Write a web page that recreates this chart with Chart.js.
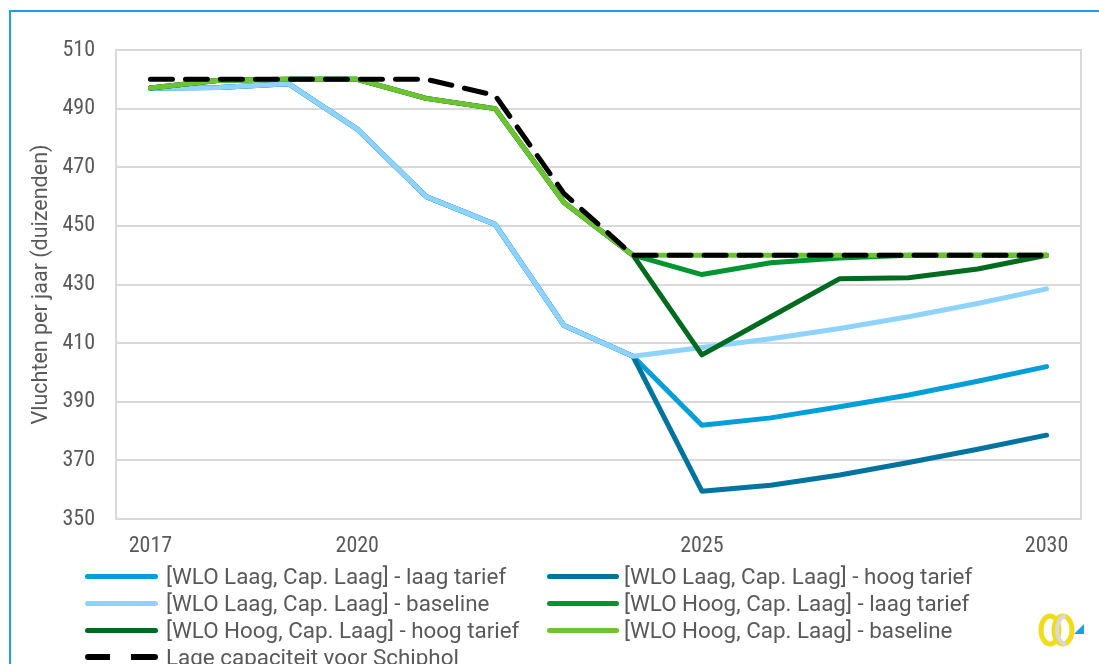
<!DOCTYPE html>
<html>
<head>
<meta charset="utf-8">
<script src="https://cdn.jsdelivr.net/npm/chart.js@4/dist/chart.umd.min.js"></script>
<style>
  html, body { margin: 0; padding: 0; background: #fff; }
  #wrap { position: relative; width: 1099px; height: 664px; overflow: hidden; font-family: Roboto, sans-serif; }
  #frame { position: absolute; left: 9px; top: 10px; width: 1200px; height: 800px; border-left: 2px solid #1BA1E2; border-top: 2px solid #1BA1E2; box-sizing: border-box; }
  #cv { position: absolute; left: 0; top: 0; }
  #legend { position: absolute; left: 0; top: 0; width: 1099px; height: 664px; pointer-events: none; }
  .item { position: absolute; height: 26px; display: flex; align-items: center; color: #595959; font-family: Roboto, sans-serif; font-size: 22.4px; white-space: nowrap; }
  .swatch { width: 73px; height: 0; margin-right: 8px; border-radius: 3px; flex: none; }
  #logo { position: absolute; left: 1036px; top: 612px; width: 50px; height: 36px; }
</style>
</head>
<body>
<div id="wrap">
  <div id="frame"></div>
  <canvas id="cv" width="1099" height="664"></canvas>
  <div id="legend"></div>
  <svg id="logo" viewBox="0 0 50 36">
    <ellipse cx="14" cy="18" rx="9" ry="14" fill="none" stroke="#F2DC1A" stroke-width="5"/>
    <ellipse cx="27" cy="18" rx="9" ry="14" fill="none" stroke="#F2DC1A" stroke-width="5"/>
    <path d="M30 4 A9 14 0 0 0 30 32" fill="none" stroke="#D9D9D9" stroke-width="4"/>
    <polygon points="38,22 48,22 48,12" fill="#1BA1E2"/>
  </svg>
</div>
<script>
const years = ["2017","2018","2019","2020","2021","2022","2023","2024","2025","2026","2027","2028","2029","2030"];
const shownYearLabels = ["2017","2020","2025","2030"];
const yTicks = [350, 370, 390, 410, 430, 450, 470, 490, 510];

const seriesNames = [
  "[WLO Laag, Cap. Laag] - laag tarief",
  "[WLO Laag, Cap. Laag] - hoog tarief",
  "[WLO Laag, Cap. Laag] - baseline",
  "[WLO Hoog, Cap. Laag] - laag tarief",
  "[WLO Hoog, Cap. Laag] - hoog tarief",
  "[WLO Hoog, Cap. Laag] - baseline",
  "Lage capaciteit voor Schiphol"
];

const wloLaagLaagTarief = [497, 497.2, 498.5, 483, 460, 450.5, 416, 405.5, 382, 384.5, 388.3, 392.3, 397, 402];
const wloLaagHoogTarief = [497, 497.2, 498.5, 483, 460, 450.5, 416, 405.5, 359.5, 361.5, 365, 369.3, 373.8, 378.6];
const wloLaagBaseline   = [497, 497.2, 498.5, 483, 460, 450.5, 416, 405.5, 408.5, 411.5, 415, 419, 423.5, 428.5];
const wloHoogLaagTarief = [497, 499.7, 500, 500, 493.5, 490, 458, 440, 433.4, 437.4, 439, 440, 440, 440];
const wloHoogHoogTarief = [497, 499.7, 500, 500, 493.5, 490, 458, 440, 406, 419, 432, 432.3, 435.3, 440];
const wloHoogBaseline   = [497, 499.7, 500, 500, 493.5, 490, 458, 440, 440, 440, 440, 440, 440, 440];
const lageCapaciteit    = [500, 500, 500, 500, 500, 494.5, 461, 440, 440, 440, 440, 440, 440, 440];

const seriesValues = [wloLaagLaagTarief, wloLaagHoogTarief, wloLaagBaseline, wloHoogLaagTarief, wloHoogHoogTarief, wloHoogBaseline, lageCapaciteit];
const seriesColors = ["#009FDA", "#00739F", "#8DD3FD", "#009530", "#006A1E", "#6CC431", "#000000"];
const seriesDash = [[], [], [], [], [], [], [22, 13]];

const datasets = seriesNames.map((name, i) => ({
  label: name,
  data: seriesValues[i],
  borderColor: seriesColors[i],
  backgroundColor: seriesColors[i],
  borderWidth: 5,
  borderDash: seriesDash[i],
  borderCapStyle: 'round',
  borderJoinStyle: 'round',
  pointRadius: 0,
  tension: 0,
  fill: false,
  order: seriesNames.length - i
}));

const plotBorder = {
  id: 'plotBorder',
  beforeDatasetsDraw(chart) {
    const a = chart.chartArea, ctx = chart.ctx;
    ctx.save();
    ctx.strokeStyle = '#D9D9D9';
    ctx.lineWidth = 2;
    ctx.strokeRect(a.left, a.top, a.right - a.left, a.bottom - a.top);
    ctx.restore();
  }
};

const tickFont = { family: 'Roboto Condensed', size: 22 };
const titleFont = { family: 'Roboto', size: 21.5 };

const chart = new Chart(document.getElementById('cv'), {
  type: 'line',
  data: { labels: years, datasets },
  options: {
    responsive: false,
    animation: false,
    layout: { padding: { left: 20, top: 50, right: 18, bottom: 105 } },
    plugins: { legend: { display: false }, tooltip: { enabled: false } },
    scales: {
      x: {
        type: 'category',
        offset: true,
        grid: { display: false, drawTicks: false },
        border: { display: false },
        afterFit(s) { s.height = 40; },
        ticks: {
          autoSkip: false, maxRotation: 0, padding: 14,
          color: '#595959', font: tickFont,
          callback(v) { const l = this.getLabelForValue(v); return shownYearLabels.includes(l) ? l : ''; }
        }
      },
      y: {
        min: 350, max: 510,
        afterBuildTicks(s) { s.ticks = yTicks.map(v => ({ value: v })); },
        afterFit(s) { s.width = 96; },
        grid: { color: '#D9D9D9', lineWidth: 2, drawTicks: false },
        border: { display: false },
        ticks: { padding: 21, color: '#595959', font: tickFont },
        title: {
          display: true, text: 'Vluchten per jaar (duizenden)',
          color: '#595959', font: titleFont,
          padding: { top: 9, bottom: 0 }
        }
      }
    }
  },
  plugins: [plotBorder]
});

// HTML legend built from chart datasets, two columns
const legendEl = document.getElementById('legend');
const colX = [85, 547];
const rowY = [576, 603, 630, 657];
chart.data.datasets.forEach((ds, i) => {
  const it = document.createElement('div');
  it.className = 'item';
  it.style.left = colX[i % 2] + 'px';
  it.style.top = (rowY[Math.floor(i / 2)] - 13) + 'px';
  const sw = document.createElement('span');
  sw.className = 'swatch';
  if (i % 2 === 1) { sw.style.width = '72px'; sw.style.marginRight = '5px'; }
  if (ds.borderDash && ds.borderDash.length) {
    sw.style.height = '6px';
    sw.style.background = 'linear-gradient(to right, ' + ds.borderColor + ' 0 25px, transparent 25px 46px, ' + ds.borderColor + ' 46px 73px)';
  } else {
    sw.style.borderTop = '5px solid ' + ds.borderColor;
  }
  const tx = document.createElement('span');
  tx.textContent = ds.label;
  it.appendChild(sw);
  it.appendChild(tx);
  legendEl.appendChild(it);
});
</script>
</body>
</html>
